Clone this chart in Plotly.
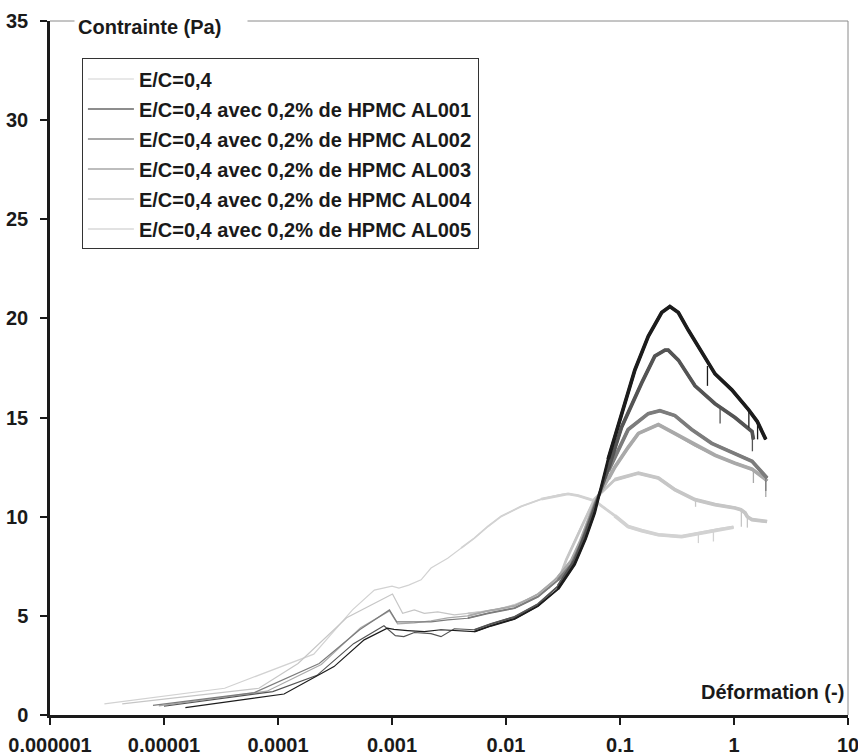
import plotly.graph_objects as go

# Strain (-) and stress (Pa) for each paste
ec_x = [3.0e-6, 3.4e-5, 2.06e-4, 4.5e-4, 7.0e-4, 1.0e-3, 1.15e-3, 1.4e-3, 1.8e-3, 2.2e-3,
        3.08e-3, 4.04e-3, 5.28e-3, 6.93e-3, 9.08e-3, 0.0136, 0.0204, 0.0306, 0.035, 0.0429,
        0.06, 0.09, 0.118, 0.155, 0.217, 0.347, 0.521, 0.73, 0.99]
ec_y = [0.56, 1.35, 3.07, 5.3, 6.3, 6.5, 6.4, 6.55, 6.82, 7.41,
        7.91, 8.42, 8.92, 9.51, 10.02, 10.52, 10.89, 11.11, 11.15, 11.06,
        10.8, 10.05, 9.5, 9.3, 9.09, 9.0, 9.2, 9.36, 9.47]

al001_x = [1.54e-5, 1.13e-4, 3.1e-4, 5.7e-4, 9.1e-4, 1.04e-3, 1.37e-3, 1.92e-3, 2.69e-3, 3.52e-3,
           5.28e-3, 7.41e-3, 0.0119, 0.0191, 0.0286, 0.04, 0.05, 0.06, 0.0787, 0.103,
           0.135, 0.177, 0.232, 0.274, 0.325, 0.398, 0.521, 0.682, 0.957, 1.34,
           1.6, 1.9]
al001_y = [0.37, 1.06, 2.44, 3.79, 4.38, 4.32, 4.26, 4.2, 4.3, 4.25,
           4.2, 4.5, 4.85, 5.5, 6.35, 7.6, 8.9, 10.2, 12.9, 15.2,
           17.4, 19.1, 20.3, 20.6, 20.3, 19.4, 18.3, 17.2, 16.4, 15.4,
           14.8, 13.9]

al002_x = [1.0e-5, 9.0e-5, 2.2e-4, 4.6e-4, 8.5e-4, 1.07e-3, 1.27e-3, 1.57e-3, 2.2e-3, 2.69e-3,
           3.52e-3, 5.28e-3, 7.41e-3, 0.0119, 0.0191, 0.0286, 0.04, 0.05, 0.06, 0.079,
           0.103, 0.155, 0.202, 0.248, 0.265, 0.325, 0.455, 0.682, 1.02, 1.44,
           1.48]
al002_y = [0.44, 1.18, 2.0, 3.6, 4.5, 4.0, 3.95, 4.16, 4.1, 3.95,
           4.35, 4.3, 4.6, 4.95, 5.6, 6.5, 7.8, 9.2, 10.5, 12.4,
           14.5, 16.75, 18.1, 18.4, 18.4, 17.9, 16.6, 15.7, 15.0, 14.3,
           13.9]

al003_x = [8.0e-6, 6.2e-5, 2.3e-4, 5.2e-4, 9.5e-4, 1.1e-3, 1.57e-3, 2.2e-3, 3.08e-3, 4.62e-3,
           6.93e-3, 0.0119, 0.0191, 0.0286, 0.0374, 0.045, 0.06, 0.079, 0.09, 0.118,
           0.177, 0.224, 0.303, 0.425, 0.638, 1.02, 1.44, 1.95]
al003_y = [0.49, 1.13, 2.6, 4.3, 5.3, 4.7, 4.7, 4.7, 4.8, 4.88,
           5.13, 5.39, 5.97, 6.8, 7.58, 8.6, 10.6, 12.3, 13.0, 14.4,
           15.2, 15.35, 15.1, 14.4, 13.7, 13.2, 12.8, 11.95]

al004_x = [9.0e-6, 8.0e-5, 2.4e-4, 5.3e-4, 9.5e-4, 1.12e-3, 1.57e-3, 2.2e-3, 3.08e-3, 4.62e-3,
           6.93e-3, 0.0119, 0.0191, 0.0286, 0.0374, 0.045, 0.06, 0.079, 0.09, 0.118,
           0.145, 0.217, 0.303, 0.455, 0.682, 1.02, 1.44, 1.88, 1.95]
al004_y = [0.46, 1.2, 2.55, 4.4, 5.25, 4.6, 4.65, 4.75, 4.9, 5.0,
           5.25, 5.5, 6.1, 6.95, 7.8, 8.8, 10.7, 11.9, 12.5, 13.5,
           14.2, 14.65, 14.2, 13.6, 13.1, 12.7, 12.4, 11.9, 11.8]

al005_x = [4.3e-6, 6.8e-5, 1.5e-4, 4.0e-4, 1.01e-3, 1.24e-3, 1.57e-3, 1.92e-3, 2.52e-3, 3.52e-3,
           4.62e-3, 6.05e-3, 8.49e-3, 0.0119, 0.0167, 0.0234, 0.0306, 0.0338, 0.045, 0.06,
           0.09, 0.145, 0.217, 0.303, 0.455, 0.682, 1.02, 1.15, 1.25, 1.31,
           1.44, 1.95]
al005_y = [0.56, 1.35, 2.6, 4.9, 6.1, 5.13, 5.3, 5.13, 5.2, 5.05,
           5.13, 5.2, 5.33, 5.55, 5.89, 6.4, 7.16, 7.83, 9.4, 10.9,
           11.87, 12.2, 11.95, 11.36, 10.86, 10.61, 10.44, 10.35, 10.2, 10.0,
           9.85, 9.76]

# Short downward spikes in the noisy signals: strain, top and bottom stress
ec_spk_x = [0.487, 0.66]
ec_spk_top = [9.15, 9.3]
ec_spk_bot = [8.67, 8.75]
al001_spk_x = [0.585, 1.35, 1.61]
al001_spk_top = [17.6, 15.4, 14.8]
al001_spk_bot = [16.6, 14.5, 13.9]
al002_spk_x = [0.755, 1.45]
al002_spk_top = [15.5, 14.3]
al002_spk_bot = [14.7, 13.3]
al003_spk_x = [1.9]
al003_spk_top = [12.0]
al003_spk_bot = [11.3]
al004_spk_x = [1.48, 1.9]
al004_spk_top = [12.4, 11.9]
al004_spk_bot = [11.7, 11.0]
al005_spk_x = [0.46, 1.16, 1.31]
al005_spk_top = [10.86, 10.35, 10.0]
al005_spk_bot = [10.5, 9.5, 9.45]

x_tickvals = [1e-6, 1e-5, 1e-4, 1e-3, 1e-2, 1e-1, 1, 10]
x_ticktext = ["0.000001", "0.00001", "0.0001", "0.001", "0.01", "0.1", "1", "10"]

# name, x, y, spikes, colour, legend rank
series = [
    ("E/C=0,4", ec_x, ec_y, (ec_spk_x, ec_spk_top, ec_spk_bot), "#d2d2d2", 1),
    ("E/C=0,4 avec 0,2% de HPMC AL005", al005_x, al005_y, (al005_spk_x, al005_spk_top, al005_spk_bot), "#c6c6c6", 6),
    ("E/C=0,4 avec 0,2% de HPMC AL004", al004_x, al004_y, (al004_spk_x, al004_spk_top, al004_spk_bot), "#a9a9a9", 5),
    ("E/C=0,4 avec 0,2% de HPMC AL003", al003_x, al003_y, (al003_spk_x, al003_spk_top, al003_spk_bot), "#7c7c7c", 4),
    ("E/C=0,4 avec 0,2% de HPMC AL002", al002_x, al002_y, (al002_spk_x, al002_spk_top, al002_spk_bot), "#545454", 3),
    ("E/C=0,4 avec 0,2% de HPMC AL001", al001_x, al001_y, (al001_spk_x, al001_spk_top, al001_spk_bot), "#1c1c1c", 2),
]

# the signal gets noisier (drawn thicker) as strain increases
noise_bands = [(0.004, 1.8), (0.02, 2.8), (0.07, 3.7)]

fig = go.Figure()
for name, xs, ys, spikes, color, rank in series:
    fig.add_trace(go.Scatter(
        x=xs, y=ys, mode="lines", name=name, legendrank=rank,
        legendgroup=name, line=dict(color=color, width=1.2),
    ))
    for x_start, w in noise_bands:
        hx = [x for x in xs if x >= x_start]
        hy = [y for x, y in zip(xs, ys) if x >= x_start]
        fig.add_trace(go.Scatter(
            x=hx, y=hy, mode="lines", showlegend=False, hoverinfo="skip",
            legendgroup=name, line=dict(color=color, width=w),
        ))
    sx, st, sb = spikes
    px, py = [], []
    for x, t, b in zip(sx, st, sb):
        px += [x, x, None]
        py += [t, b, None]
    fig.add_trace(go.Scatter(
        x=px, y=py, mode="lines", showlegend=False, hoverinfo="skip",
        legendgroup=name, line=dict(color=color, width=1.3),
    ))

font_family = "Liberation Sans, Arial, sans-serif"
bold20 = dict(family=font_family, size=20, color="#1a1a1a", weight="bold")

fig.update_layout(
    width=858, height=756,
    margin=dict(l=50, r=10, t=21, b=41, pad=0),
    paper_bgcolor="white", plot_bgcolor="white",
    font=bold20,
    showlegend=True,
    legend=dict(
        x=0.040, y=0.946, xanchor="left", yanchor="top",
        bordercolor="#333333", borderwidth=1, bgcolor="white",
        font=bold20, traceorder="grouped", tracegroupgap=1,
        itemwidth=46,
    ),
    xaxis=dict(
        type="log", range=[-6, 1], automargin=False,
        tickvals=x_tickvals, ticktext=x_ticktext,
        ticklabeloverflow="allow",
        showgrid=False, zeroline=False,
        showline=True, linecolor="#1a1a1a", linewidth=2.5,
        ticks="outside", ticklen=7, tickwidth=2, tickcolor="#1a1a1a",
        ticklabelstandoff=3,
    ),
    yaxis=dict(
        range=[0, 35], dtick=5, tick0=0, automargin=False,
        ticklabeloverflow="allow",
        showgrid=False, zeroline=False,
        showline=True, linecolor="#1a1a1a", linewidth=2.5,
        ticks="outside", ticklen=7, tickwidth=2, tickcolor="#1a1a1a",
        ticklabelstandoff=8,
    ),
    shapes=[
        dict(type="line", xref="paper", yref="paper", x0=0, x1=1, y0=1, y1=1,
             line=dict(color="#8a8a8a", width=1), layer="below"),
        dict(type="line", xref="paper", yref="paper", x0=1, x1=1, y0=0, y1=1,
             line=dict(color="#8a8a8a", width=1), layer="below"),
    ],
    annotations=[
        dict(text="Contrainte (Pa)&nbsp;&nbsp;&nbsp;&nbsp;", xref="paper", yref="paper", x=0.030, y=1,
             xanchor="left", yanchor="middle", yshift=-6, showarrow=False,
             bgcolor="white", borderpad=3, font=bold20),
        dict(text="Déformation (-)", xref="paper", yref="paper", x=0.998, y=0.033,
             xanchor="right", yanchor="middle", showarrow=False, font=bold20),
    ],
)

fig.write_html("out.html")
